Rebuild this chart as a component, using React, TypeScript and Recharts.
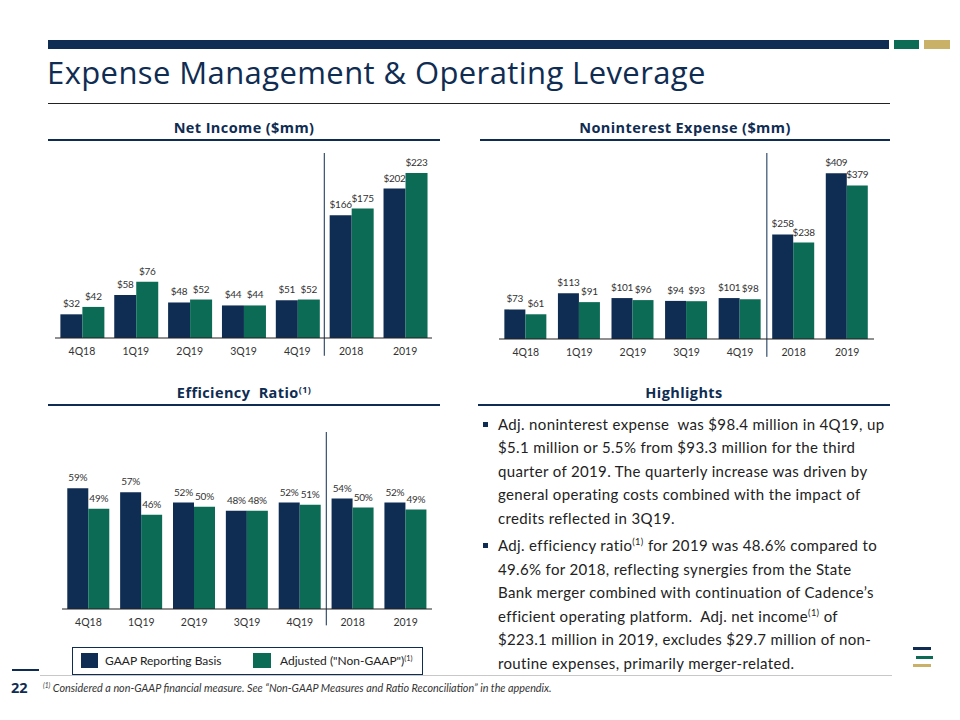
import { Bar, BarChart, LabelList, ReferenceLine, XAxis, YAxis } from "recharts";

const periods = ["4Q18", "1Q19", "2Q19", "3Q19", "4Q19", "2018", "2019"];

const netIncomeGaap = [32, 58, 48, 44, 51, 166, 202];
const netIncomeAdjusted = [42, 76, 52, 44, 52, 175, 223.1];

const expenseGaap = [73, 113, 101, 94, 101, 258, 409];
const expenseAdjusted = [61, 91, 96, 93.3, 98.4, 238, 379];

const efficiencyGaap = [59, 57, 52, 48, 52, 54, 52];
const efficiencyAdjusted = [49, 46, 50, 48, 51, 49.6, 48.6];

const NAVY = "#0f2c52";
const GREEN = "#0b6b55";
const GOLD = "#c9b267";
const LABEL_FONT = "Lato, sans-serif";

interface Row {
  period: string;
  gaap: number;
  adjusted: number;
}

const toRows = (gaap: number[], adjusted: number[]): Row[] =>
  periods.map((period, i) => ({ period, gaap: gaap[i], adjusted: adjusted[i] }));

interface PairedBarsProps {
  rows: Row[];
  maxValue: number;
  separatorLow: number;
  plotLeft: number;
  plotTop: number;
  plotWidth: number;
  plotHeight: number;
  format: (v: number) => string;
}

function PairedBars({ rows, maxValue, separatorLow, plotLeft, plotTop, plotWidth, plotHeight, format }: PairedBarsProps) {
  const margin = { top: 20, right: 10, bottom: 0, left: 10 };
  const axisHeight = 30;
  const labelStyle = { fill: "#333", fontSize: 10, fontFamily: LABEL_FONT, letterSpacing: -0.25 };
  const formatter = (v: unknown) => format(Number(v));

  return (
    <div style={{ position: "absolute", left: plotLeft - margin.left, top: plotTop - margin.top }}>
      <BarChart
        width={plotWidth + margin.left + margin.right}
        height={plotHeight + margin.top + axisHeight}
        data={rows}
        margin={margin}
        barGap={0}
        barCategoryGap="10%"
        style={{ fontFamily: LABEL_FONT }}
      >
        <XAxis
          dataKey="period"
          height={axisHeight}
          interval={0}
          tickLine={false}
          tickMargin={4}
          axisLine={{ stroke: "#222", strokeWidth: 1.2 }}
          tick={{ fill: "#333", fontSize: 10.5, fontFamily: LABEL_FONT }}
        />
        <YAxis hide domain={[0, maxValue]} allowDataOverflow />
        <Bar dataKey="gaap" fill={NAVY} isAnimationActive={false}>
          <LabelList dataKey="gaap" position="top" offset={7} style={labelStyle} formatter={formatter} />
        </Bar>
        <Bar dataKey="adjusted" fill={GREEN} isAnimationActive={false}>
          <LabelList dataKey="adjusted" position="top" offset={7} style={labelStyle} formatter={formatter} />
        </Bar>
        <ReferenceLine
          segment={[
            { x: "4Q19", y: separatorLow },
            { x: "4Q19", y: maxValue },
          ]}
          position="end"
          ifOverflow="visible"
          stroke={NAVY}
          strokeWidth={1}
        />
      </BarChart>
    </div>
  );
}

function SectionHeader({ left, width, top, children }: { left: number; width: number; top: number; children: React.ReactNode }) {
  return (
    <>
      <div
        style={{
          position: "absolute",
          left,
          width,
          top,
          textAlign: "center",
          fontFamily: "'Open Sans', sans-serif",
          fontWeight: 700,
          fontSize: 14.5,
          letterSpacing: 0.4,
          lineHeight: "18px",
          color: NAVY,
          whiteSpace: "nowrap",
        }}
      >
        {children}
      </div>
      <div style={{ position: "absolute", left, width, top: top + 20, height: 2, background: NAVY }} />
    </>
  );
}

const Sup = () => <sup style={{ fontSize: "0.62em", lineHeight: 0, verticalAlign: "0.6em" }}>(1)</sup>;

const dollars = (v: number) => `$${Math.round(v)}`;
const percent = (v: number) => `${Math.round(v)}%`;

export default function App() {
  return (
    <div
      style={{
        position: "absolute",
        left: 0,
        top: 0,
        width: 960,
        height: 720,
        background: "#fff",
        overflow: "hidden",
        fontFamily: LABEL_FONT,
        color: "#222",
      }}
    >
      {/* top bar */}
      <div style={{ position: "absolute", left: 48, top: 40, width: 841, height: 9, background: NAVY }} />
      <div style={{ position: "absolute", left: 894, top: 40, width: 25, height: 9, background: GREEN }} />
      <div style={{ position: "absolute", left: 924, top: 40, width: 26, height: 9, background: GOLD }} />

      <div
        style={{
          position: "absolute",
          left: 47,
          top: 57,
          fontFamily: "'Open Sans', sans-serif",
          fontSize: 31,
          letterSpacing: 0.4,
          lineHeight: 1,
          color: NAVY,
          whiteSpace: "nowrap",
        }}
      >
        Expense Management &amp; Operating Leverage
      </div>
      <div style={{ position: "absolute", left: 48, top: 103, width: 842, height: 1, background: "#222" }} />

      <SectionHeader left={48} width={392} top={119}>Net Income ($mm)</SectionHeader>
      <SectionHeader left={480} width={410} top={119}>Noninterest Expense ($mm)</SectionHeader>
      <SectionHeader left={48} width={392} top={384}>
        Efficiency&nbsp; Ratio<Sup />
      </SectionHeader>
      <SectionHeader left={478} width={412} top={384}>Highlights</SectionHeader>

      <PairedBars
        rows={toRows(netIncomeGaap, netIncomeAdjusted)}
        maxValue={250}
        separatorLow={-24}
        plotLeft={55}
        plotTop={153}
        plotWidth={377}
        plotHeight={185}
        format={dollars}
      />
      <PairedBars
        rows={toRows(expenseGaap, expenseAdjusted)}
        maxValue={459}
        separatorLow={-44}
        plotLeft={499}
        plotTop={153}
        plotWidth={375}
        plotHeight={186}
        format={dollars}
      />
      <PairedBars
        rows={toRows(efficiencyGaap, efficiencyAdjusted)}
        maxValue={86.5}
        separatorLow={-8}
        plotLeft={62}
        plotTop={432}
        plotWidth={370}
        plotHeight={177}
        format={percent}
      />

      {/* legend */}
      <div
        style={{
          position: "absolute",
          left: 72,
          top: 647,
          width: 349,
          height: 26,
          border: `1px solid ${NAVY}`,
          fontSize: 12,
          color: "#222",
        }}
      >
        <div style={{ position: "absolute", left: 8, top: 5, width: 17, height: 15, background: NAVY }} />
        <div style={{ position: "absolute", left: 32, top: 4, lineHeight: "17px", whiteSpace: "nowrap" }}>GAAP Reporting Basis</div>
        <div style={{ position: "absolute", left: 180, top: 5, width: 18, height: 15, background: GREEN }} />
        <div style={{ position: "absolute", left: 207, top: 4, lineHeight: "17px", whiteSpace: "nowrap" }}>
          Adjusted ("Non-GAAP")<Sup />
        </div>
      </div>

      {/* highlights */}
      <div
        style={{
          position: "absolute",
          left: 498,
          top: 412.5,
          fontSize: 15,
          letterSpacing: 0.35,
          lineHeight: "23.5px",
          whiteSpace: "nowrap",
          color: "#222",
        }}
      >
        <div style={{ position: "relative" }}>
          <span style={{ position: "absolute", left: -15, top: 9, width: 5, height: 5, background: NAVY }} />
          Adj. noninterest expense&nbsp; was $98.4 million in 4Q19, up
          <br />
          $5.1 million or 5.5% from $93.3 million for the third
          <br />
          quarter of 2019. The quarterly increase was driven by
          <br />
          general operating costs combined with the impact of
          <br />
          credits reflected in 3Q19.
        </div>
        <div style={{ position: "relative", marginTop: 4 }}>
          <span style={{ position: "absolute", left: -15, top: 9, width: 5, height: 5, background: NAVY }} />
          Adj. efficiency ratio<Sup /> for 2019 was 48.6% compared to
          <br />
          49.6% for 2018, reflecting synergies from the State
          <br />
          Bank merger combined with continuation of Cadence’s
          <br />
          efficient operating platform.&nbsp; Adj. net income<Sup /> of
          <br />
          $223.1 million in 2019, excludes $29.7 million of non-
          <br />
          routine expenses, primarily merger-related.
        </div>
      </div>

      {/* logo mark */}
      <div style={{ position: "absolute", left: 913, top: 647, width: 18, height: 3, background: NAVY }} />
      <div style={{ position: "absolute", left: 916, top: 656, width: 17, height: 3, background: GREEN }} />
      <div style={{ position: "absolute", left: 913, top: 664, width: 18, height: 3, background: GOLD }} />

      {/* footer */}
      <div style={{ position: "absolute", left: 12, top: 669, width: 27, height: 2, background: NAVY }} />
      <div style={{ position: "absolute", left: 40, top: 675, width: 852, height: 1, background: "#c8c8c8" }} />
      <div
        style={{
          position: "absolute",
          left: 11,
          top: 678,
          fontFamily: "'Open Sans', sans-serif",
          fontWeight: 700,
          fontSize: 14.5,
          lineHeight: "20px",
          color: NAVY,
        }}
      >
        22
      </div>
      <div
        style={{
          position: "absolute",
          left: 43,
          top: 681,
          fontSize: 10.8,
          lineHeight: "14px",
          fontStyle: "italic",
          color: "#333",
          whiteSpace: "nowrap",
        }}
      >
        <Sup /> Considered a non-GAAP financial measure. See “Non-GAAP Measures and Ratio Reconciliation” in the appendix.
      </div>
    </div>
  );
}
